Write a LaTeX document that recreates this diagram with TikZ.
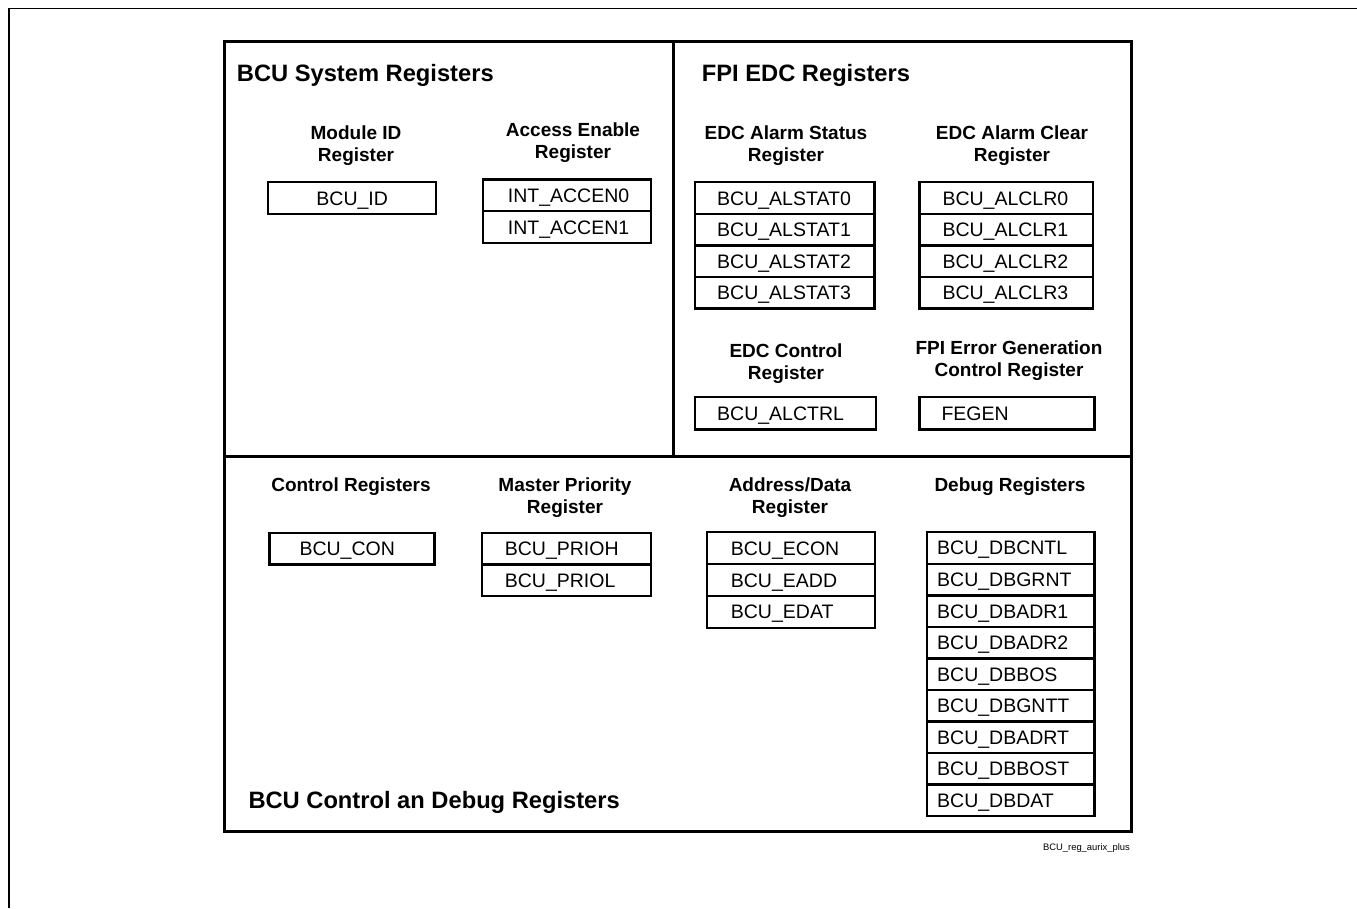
\documentclass[tikz,border=0pt]{standalone}
\usepackage{fontspec}
\setmainfont{Liberation Sans}
\newcommand\regfont{\fontsize{19.5}{22}\selectfont}
\newcommand\hdfont{\fontsize{19}{22}\selectfont\bfseries}
\newcommand\ttlfont{\fontsize{23.7}{28}\selectfont\bfseries}
\newcommand\ftfont{\fontsize{9.4}{11}\selectfont}
\begin{document}
\begin{tikzpicture}[x=1pt,y=-1pt,
  reg/.style={draw, line width=2.4pt, anchor=north west, inner sep=0pt, align=left,
              font=\regfont, text height=14pt, text depth=0pt},
  hdr/.style={align=center, font=\hdfont, inner sep=0pt},
  ttl/.style={anchor=base west, font=\ttlfont, inner sep=0pt},
  frame/.style={line width=3.2pt},
]
\useasboundingbox (0,0) rectangle (1357,908);
% outer thin border
\coordinate (ob1) at (9,908);
\coordinate (ob2) at (9,8.5);
\coordinate (ob3) at (1357,8.5);
\draw[line width=1.3pt] (ob1) -- (ob2) -- (ob3);
% main frame
\coordinate (tl) at (224.3,41.5);
\coordinate (br) at (1131.7,831.7);
\coordinate (mt) at (673.3,41.5);
\coordinate (mb) at (673.3,456.7);
\coordinate (hl) at (224.3,456.7);
\coordinate (hr) at (1131.7,456.7);
\draw[frame] (tl) rectangle (br);
\draw[frame] (mt) -- (mb);
\draw[frame] (hl) -- (hr);
% titles
\node[ttl] (t1) at (236.7,81.7) {BCU System Registers};
\node[ttl] (t2) at (701.7,81.7) {FPI EDC Registers};
\node[ttl] (t3) at (248.3,808) {BCU Control an Debug Registers};
% headers
\node[hdr] (h1) at (356,146) {Module ID\\Register};
\node[hdr] (h2) at (573,143) {Access Enable\\Register};
\node[hdr] (h3) at (786,146) {EDC Alarm Status\\Register};
\node[hdr] (h4) at (1012,146) {EDC Alarm Clear\\Register};
\node[hdr] (h5) at (786,364) {EDC Control\\Register};
\node[hdr] (h6) at (1009,361) {FPI Error Generation\\Control Register};
\node[hdr] (h7) at (351,487) {Control Registers};
\node[hdr] (h8) at (565,498) {Master Priority\\Register};
\node[hdr] (h9) at (790,498) {Address/Data\\Register};
\node[hdr] (h10) at (1010,487) {Debug Registers};
% registers
\node[reg, align=center, text width=168pt, minimum height=32pt] (bcuid) at (267,181) {BCU\_ID};
\foreach \t [count=\i from 0] in {INT\_ACCEN0,INT\_ACCEN1}
  \node[reg, text width=168.3pt, minimum height=31.7pt] (accen\i) at (481.7,178.3+\i*31.7) {\hspace*{25pt}\t};
\foreach \t [count=\i from 0] in {BCU\_ALSTAT0,BCU\_ALSTAT1,BCU\_ALSTAT2,BCU\_ALSTAT3}
  \node[reg, text width=179.3pt, minimum height=31.6pt] (alstat\i) at (694,181+\i*31.6) {\hspace*{22pt}\t};
\foreach \t [count=\i from 0] in {BCU\_ALCLR0,BCU\_ALCLR1,BCU\_ALCLR2,BCU\_ALCLR3}
  \node[reg, text width=173.4pt, minimum height=31.6pt] (alclr\i) at (918.3,181+\i*31.6) {\hspace*{23pt}\t};
\node[reg, text width=181pt, minimum height=32.6pt] (alctrl) at (694,395.7) {\hspace*{22pt}BCU\_ALCTRL};
\node[reg, text width=175pt, minimum height=32.6pt] (fegen) at (918.3,395.7) {\hspace*{22pt}FEGEN};
\node[reg, text width=165pt, minimum height=31.6pt] (bcucon) at (268.3,531.7) {\hspace*{30pt}BCU\_CON};
\foreach \t [count=\i from 0] in {BCU\_PRIOH,BCU\_PRIOL}
  \node[reg, text width=169.3pt, minimum height=31.65pt] (prio\i) at (480.7,531.7+\i*31.65) {\hspace*{23pt}\t};
\foreach \t [count=\i from 0] in {BCU\_ECON,BCU\_EADD,BCU\_EDAT}
  \node[reg, text width=168.3pt, minimum height=31.9pt] (e\i) at (705.7,531+\i*31.9) {\hspace*{24pt}\t};
\foreach \t [count=\i from 0] in {BCU\_DBCNTL,BCU\_DBGRNT,BCU\_DBADR1,BCU\_DBADR2,BCU\_DBBOS,BCU\_DBGNTT,BCU\_DBADRT,BCU\_DBBOST,BCU\_DBDAT}
  \node[reg, text width=167.3pt, minimum height=31.55pt] (db\i) at (926,531+\i*31.55) {\hspace*{10pt}\t};
% footer
\node[anchor=base east, font=\ftfont, inner sep=0pt] (foot) at (1130,850) {BCU\_reg\_aurix\_plus};
\end{tikzpicture}
\end{document}
